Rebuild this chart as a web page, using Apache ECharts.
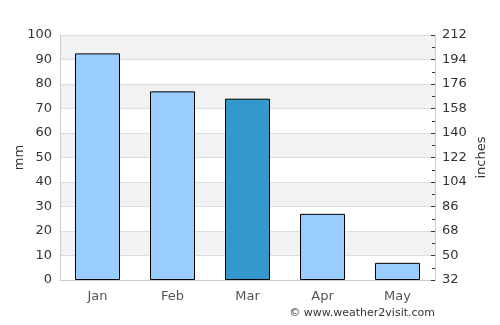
<!DOCTYPE html>
<html><head><meta charset="utf-8">
<script src="https://cdn.jsdelivr.net/npm/echarts@6/dist/echarts.min.js"></script>
<style>html,body{margin:0;padding:0;background:#fff}#c{width:500px;height:325px}</style>
</head><body><div id="c"></div>
<script>
var categories = ['Jan', 'Feb', 'Mar', 'Apr', 'May'];
var rainfall = [92.5, 77, 74, 27, 7];
var highlightIndex = 2;
var leftTicks = {min: 0, max: 100, interval: 10};
var rightTicks = {min: 32, max: 212, interval: 18};

var chart = echarts.init(document.getElementById('c'), null, {renderer: 'canvas'});
var font = 'DejaVu Sans';
chart.setOption({
  animation: false,
  textStyle: {fontFamily: font},
  grid: {left: 60, right: 65, top: 35, bottom: 45, containLabel: false, outerBoundsMode: 'none'},
  xAxis: {
    type: 'category', data: categories,
    axisLine: {show: true, lineStyle: {color: '#cccccc'}},
    axisTick: {show: false},
    axisLabel: {color: '#555555', fontSize: 13, margin: 10, fontFamily: font}
  },
  yAxis: [{
    type: 'value', min: leftTicks.min, max: leftTicks.max, interval: leftTicks.interval,
    name: 'mm', nameLocation: 'middle', nameGap: 34, nameRotate: 90, nameMoveOverlap: false,
    nameTextStyle: {color: '#333333', fontSize: 13, fontFamily: font},
    axisLine: {show: true, lineStyle: {color: '#cccccc'}},
    axisTick: {show: false},
    axisLabel: {color: '#333333', fontSize: 13, margin: 8, fontFamily: font},
    splitLine: {show: true, lineStyle: {color: '#dddddd'}},
    splitArea: {show: true, areaStyle: {color: ['#ffffff', '#f2f2f2']}}
  }, {
    type: 'value', position: 'right', min: rightTicks.min, max: rightTicks.max, interval: rightTicks.interval,
    name: 'inches', nameLocation: 'middle', nameGap: 40, nameRotate: 90, nameMoveOverlap: false,
    nameTextStyle: {color: '#333333', fontSize: 13, fontFamily: font},
    axisLine: {show: true, lineStyle: {color: '#cccccc'}},
    axisTick: {show: true, inside: true, length: 4, lineStyle: {color: '#333333'}},
    minorTick: {show: true, splitNumber: 2, length: 3, lineStyle: {color: '#333333'}},
    axisLabel: {color: '#333333', fontSize: 13, margin: 7, fontFamily: font},
    splitLine: {show: false}
  }],
  series: [{
    type: 'bar', barWidth: '60%', yAxisIndex: 0,
    data: rainfall.map(function (v, i) {
      return {value: v, itemStyle: {color: i === highlightIndex ? '#3399cc' : '#99ccff'}};
    }),
    itemStyle: {borderColor: '#000000', borderWidth: 1}
  }],
  graphic: [{
    type: 'text', right: 65, top: 308,
    style: {text: '© www.weather2visit.com', fill: '#333333', font: '11px "DejaVu Sans"', textAlign: 'right'}
  }]
});
</script></body></html>
